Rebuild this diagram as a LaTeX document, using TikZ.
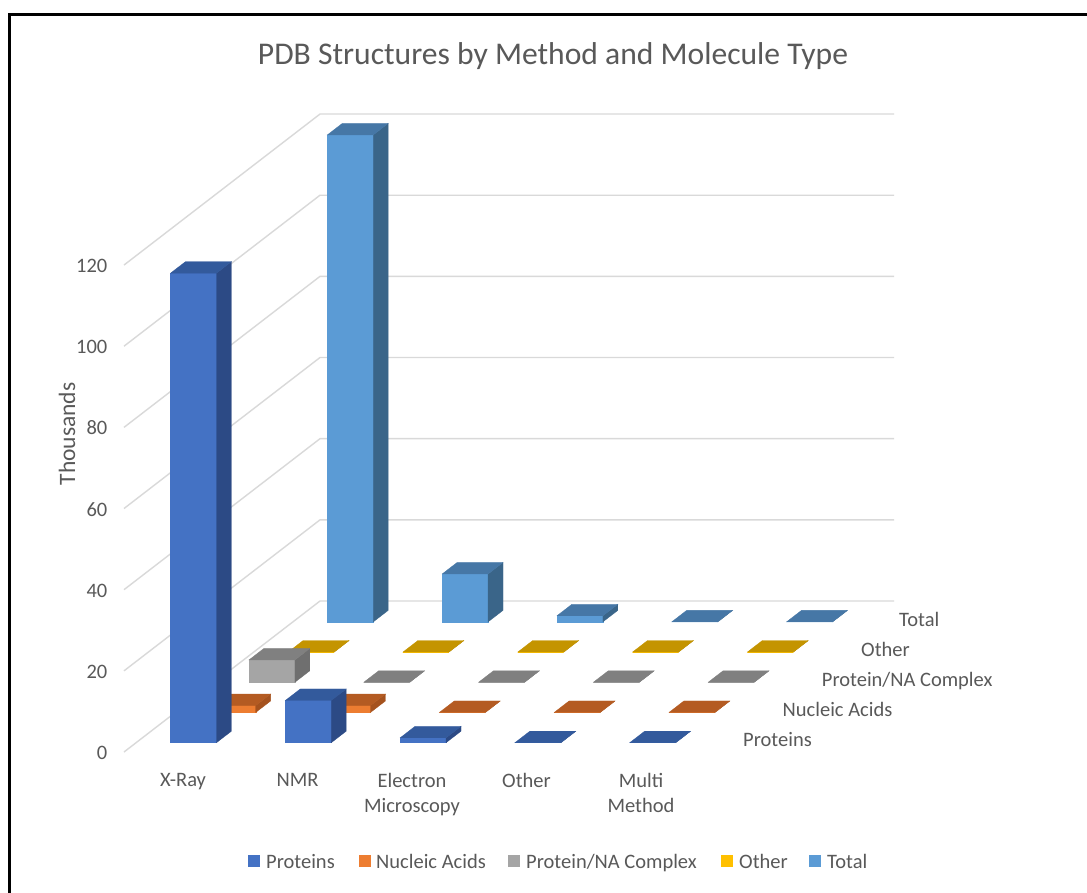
\documentclass[tikz,border=0pt]{standalone}
\usepackage{fontspec}
\setmainfont{Carlito}
\definecolor{txtgray}{HTML}{595959}
\definecolor{gridgray}{HTML}{D9D9D9}
\definecolor{protF}{HTML}{4472C4}
\definecolor{protT}{HTML}{335A9C}
\definecolor{protS}{HTML}{2C4A85}
\definecolor{nucF}{HTML}{ED7D31}
\definecolor{nucT}{HTML}{B45B22}
\definecolor{nucS}{HTML}{A5521E}
\definecolor{cplxF}{HTML}{A5A5A5}
\definecolor{cplxT}{HTML}{808080}
\definecolor{cplxS}{HTML}{6F6F6F}
\definecolor{othF}{HTML}{FFC000}
\definecolor{othT}{HTML}{C49400}
\definecolor{othS}{HTML}{A98000}
\definecolor{totF}{HTML}{5B9BD5}
\definecolor{totT}{HTML}{4677A6}
\definecolor{totS}{HTML}{3A6589}

% one 3-D column: #1 category, #2 series row, #3 value (thousands), #4 colour prefix
\newcommand\barbox[4]{%
  \pgfmathsetmacro\ca{#1+0.3}%
  \pgfmathsetmacro\cb{#1+0.7}%
  \pgfmathsetmacro\ra{#2+0.31}%
  \pgfmathsetmacro\rb{#2+0.69}%
  \filldraw[#4F, line width=0.3pt] (\ca,0,\ra) -- (\cb,0,\ra) -- (\cb,#3,\ra) -- (\ca,#3,\ra) -- cycle;
  \filldraw[#4S, line width=0.3pt] (\cb,0,\ra) -- (\cb,0,\rb) -- (\cb,#3,\rb) -- (\cb,#3,\ra) -- cycle;
  \filldraw[#4T, line width=0.3pt] (\ca,#3,\ra) -- (\cb,#3,\ra) -- (\cb,#3,\rb) -- (\ca,#3,\rb) -- cycle;
}

\begin{document}
\begin{tikzpicture}[x=1pt,y=-1pt,
  lbl/.style={font=\fontsize{20.5}{25}\selectfont, text=txtgray, inner sep=0pt},
  ticklbl/.style={lbl, anchor=base east},
  serieslbl/.style={lbl, anchor=base west},
  catlbl/.style={lbl, anchor=north, align=center},
  legtxt/.style={lbl, anchor=base west},
  legkey/.style={minimum size=12pt, inner sep=0pt, outer sep=0pt},
  gridline/.style={gridgray, line width=1.4pt}]
\useasboundingbox (0,0) rectangle (1087,892);
\clip (0,0) rectangle (1087,892);
\fill[white] (0,0) rectangle (1087,892);
\draw[line width=3pt] (9.5,14.5) rectangle (1110,910);

% title and value-axis caption
\node[lbl, font=\fontsize{31.6}{36}\selectfont, anchor=base] (title) at (553,64)
  {PDB Structures by Method and Molecule Type};
\node[lbl, font=\fontsize{23.5}{28}\selectfont, rotate=90] (unit) at (67,434) {Thousands};

% value axis ticks
\foreach \v [count=\i] in {0,20,...,120}
  \node[ticklbl] (tick\i) at (107.5,{752-\v*4.058+7.5}) {\v};

% chart body: x = category, y = value, z = series depth
\begin{scope}[shift={(124,752)}, x={(114.8pt,0pt)}, y={(0pt,4.058pt)}, z={(39.2pt,30.2pt)}]
  \foreach \v in {0,20,...,120}
    \draw[gridline] (0,\v,0) -- (0,\v,5) -- (5,\v,5);
  % Total
  \barbox{0}{4}{120}{tot}
  \barbox{1}{4}{11.8}{tot}
  \barbox{2}{4}{1.5}{tot}
  \barbox{3}{4}{0}{tot}
  \barbox{4}{4}{0}{tot}
  % Other
  \barbox{0}{3}{0}{oth}
  \barbox{1}{3}{0}{oth}
  \barbox{2}{3}{0}{oth}
  \barbox{3}{3}{0}{oth}
  \barbox{4}{3}{0}{oth}
  % Protein/NA Complex
  \barbox{0}{2}{5.5}{cplx}
  \barbox{1}{2}{0}{cplx}
  \barbox{2}{2}{0}{cplx}
  \barbox{3}{2}{0}{cplx}
  \barbox{4}{2}{0}{cplx}
  % Nucleic Acids
  \barbox{0}{1}{1.7}{nuc}
  \barbox{1}{1}{1.7}{nuc}
  \barbox{2}{1}{0}{nuc}
  \barbox{3}{1}{0}{nuc}
  \barbox{4}{1}{0}{nuc}
  % Proteins
  \barbox{0}{0}{115.7}{prot}
  \barbox{1}{0}{10.4}{prot}
  \barbox{2}{0}{1.2}{prot}
  \barbox{3}{0}{0}{prot}
  \barbox{4}{0}{0}{prot}
\end{scope}

% category labels
\node[catlbl] (catXR) at (183,773.5) {X-Ray};
\node[catlbl] (catNMR) at (297.5,773.5) {NMR};
\node[catlbl] (catEM) at (412,773.5) {Electron\\Microscopy};
\node[catlbl] (catOT) at (526.5,773.5) {Other};
\node[catlbl] (catMM) at (641,773.5) {Multi\\Method};

% series labels along the depth axis
\node[serieslbl] (serP) at (743,746) {Proteins};
\node[serieslbl] (serN) at (782.5,716) {Nucleic Acids};
\node[serieslbl] (serC) at (821.7,686) {Protein/NA Complex};
\node[serieslbl] (serO) at (861,656) {Other};
\node[serieslbl] (serT) at (899,626) {Total};

% legend
\node[legkey, fill=protF] (kP) at (254,861) {};
\node[legtxt] (lP) at (266,868) {Proteins};
\node[legkey, fill=nucF] (kN) at (365,861) {};
\node[legtxt] (lN) at (376,868) {Nucleic Acids};
\node[legkey, fill=cplxF] (kC) at (514,861) {};
\node[legtxt] (lC) at (526,868) {Protein/NA Complex};
\node[legkey, fill=othF] (kO) at (727,861) {};
\node[legtxt] (lO) at (739,868) {Other};
\node[legkey, fill=totF] (kT) at (815,861) {};
\node[legtxt] (lT) at (827,868) {Total};
\end{tikzpicture}
\end{document}
